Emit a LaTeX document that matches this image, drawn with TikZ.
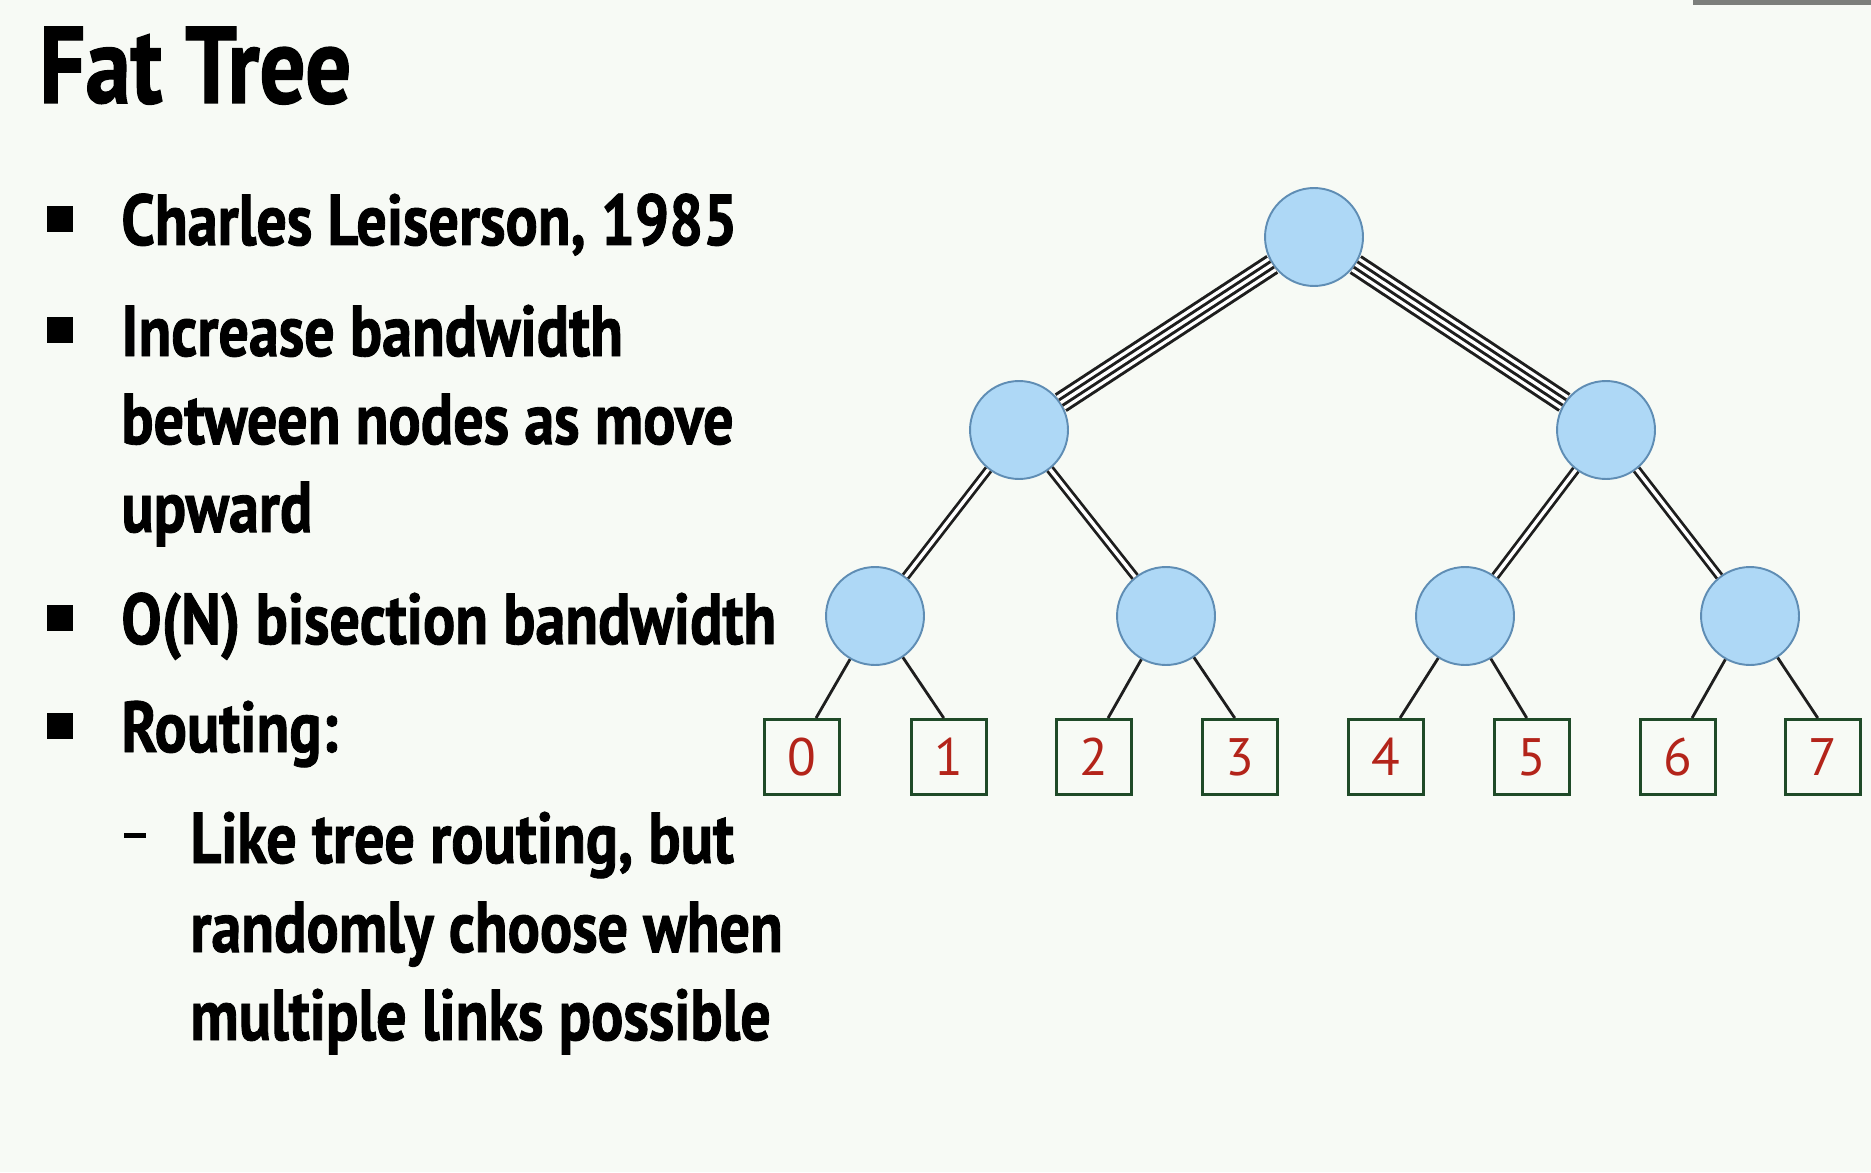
\documentclass[tikz,border=0pt]{standalone}
\usepackage{fontspec}
\usepackage{tikz}
\usetikzlibrary{positioning}

\newfontfamily\slidefont{PT Sans}[UprightFont=* Bold, FakeStretch=0.835, FakeBold=1.2]
\newfontfamily\digitfont{PT Sans}

\definecolor{slidebg}{HTML}{F7FAF5}
\definecolor{swfill}{HTML}{AED8F6}
\definecolor{swborder}{HTML}{5F8DB4}
\definecolor{procborder}{HTML}{1F4A28}
\definecolor{procred}{HTML}{B3241A}
\definecolor{bargrey}{HTML}{7C7E7B}
\definecolor{linkgrey}{HTML}{1E1E1E}

\tikzset{
    switch/.style={circle, draw=swborder, fill=swfill, line width=1.1pt,
        minimum size=1.96cm, inner sep=0pt},
    proc/.style={rectangle, draw=procborder, fill=slidebg, line width=1.7pt,
        minimum size=1.5cm, inner sep=0pt, text=procred,
        font=\digitfont\fontsize{30}{30}\selectfont},
    link/.style={draw=linkgrey, line width=1.6pt},
    duallink/.style={draw=linkgrey, line width=1.6pt, double=white, double distance=2pt},
    quadlink/.style={draw=linkgrey, line width=1.7pt, double=white, double distance=9.1pt,
        postaction={draw=linkgrey, line width=1.7pt, double=white, double distance=1.9pt}},
    slidetext/.style={anchor=base west, inner sep=0pt,
        font=\slidefont\fontsize{41}{50}\selectfont},
}

\begin{document}
\begin{tikzpicture}[x=0.02cm, y=-0.02cm]
    % page
    \useasboundingbox[fill=slidebg] (0,0) rectangle (1871,1172);
    \fill[bargrey] (1693,0) rectangle (1871,5);

    % title
    \node[anchor=base west, inner sep=0pt, font=\slidefont\fontsize{62}{62}\selectfont]
        (title) at (39,103) {Fat Tree};

    % bullet points
    \foreach \y/\t [count=\i] in {
        245/{Charles Leiserson, 1985},
        356/{Increase bandwidth},
        444/{between nodes as move},
        532/{upward},
        644/{O(N) bisection bandwidth},
        752/{Routing:}}
    {
        \node[slidetext] (item\i) at (121,\y) {\t};
    }
    \foreach \y in {245,356,644,752}
    {
        \fill[black] (47,\y-39) rectangle (73,\y-13);
    }

    % sub point
    \foreach \y/\t [count=\i] in {
        863/{Like tree routing, but},
        952/{randomly choose when},
        1040/{multiple links possible}}
    {
        \node[slidetext] (sub\i) at (190,\y) {\t};
    }
    \fill[black] (124,833) rectangle (146,838);

    % switches
    \node[switch] (R)  at (1314,237) {};
    \node[switch] (M1) at (1019,430) {};
    \node[switch] (M2) at (1606,430) {};
    \node[switch] (S1) at (875,616)  {};
    \node[switch] (S2) at (1166,616) {};
    \node[switch] (S3) at (1465,616) {};
    \node[switch] (S4) at (1750,616) {};

    % processors
    \foreach \x [count=\i from 0] in {802,949,1094,1240,1386,1532,1678,1823}
    {
        \node[proc] (L\i) at (\x,757) {\i};
    }

    % links, fatter near the root
    \draw[quadlink] (R) -- (M1);
    \draw[quadlink] (R) -- (M2);
    \foreach \a/\b in {M1/S1, M1/S2, M2/S3, M2/S4}
    {
        \draw[duallink] (\a) -- (\b);
    }
    \foreach \a/\b/\s in {S1/L0/8, S1/L1/-3, S2/L2/8, S2/L3/-3,
                          S3/L4/8, S3/L5/-3, S4/L6/8, S4/L7/-3}
    {
        \draw[link] (\a) -- ([xshift=\s pt]\b.north);
    }
\end{tikzpicture}
\end{document}
